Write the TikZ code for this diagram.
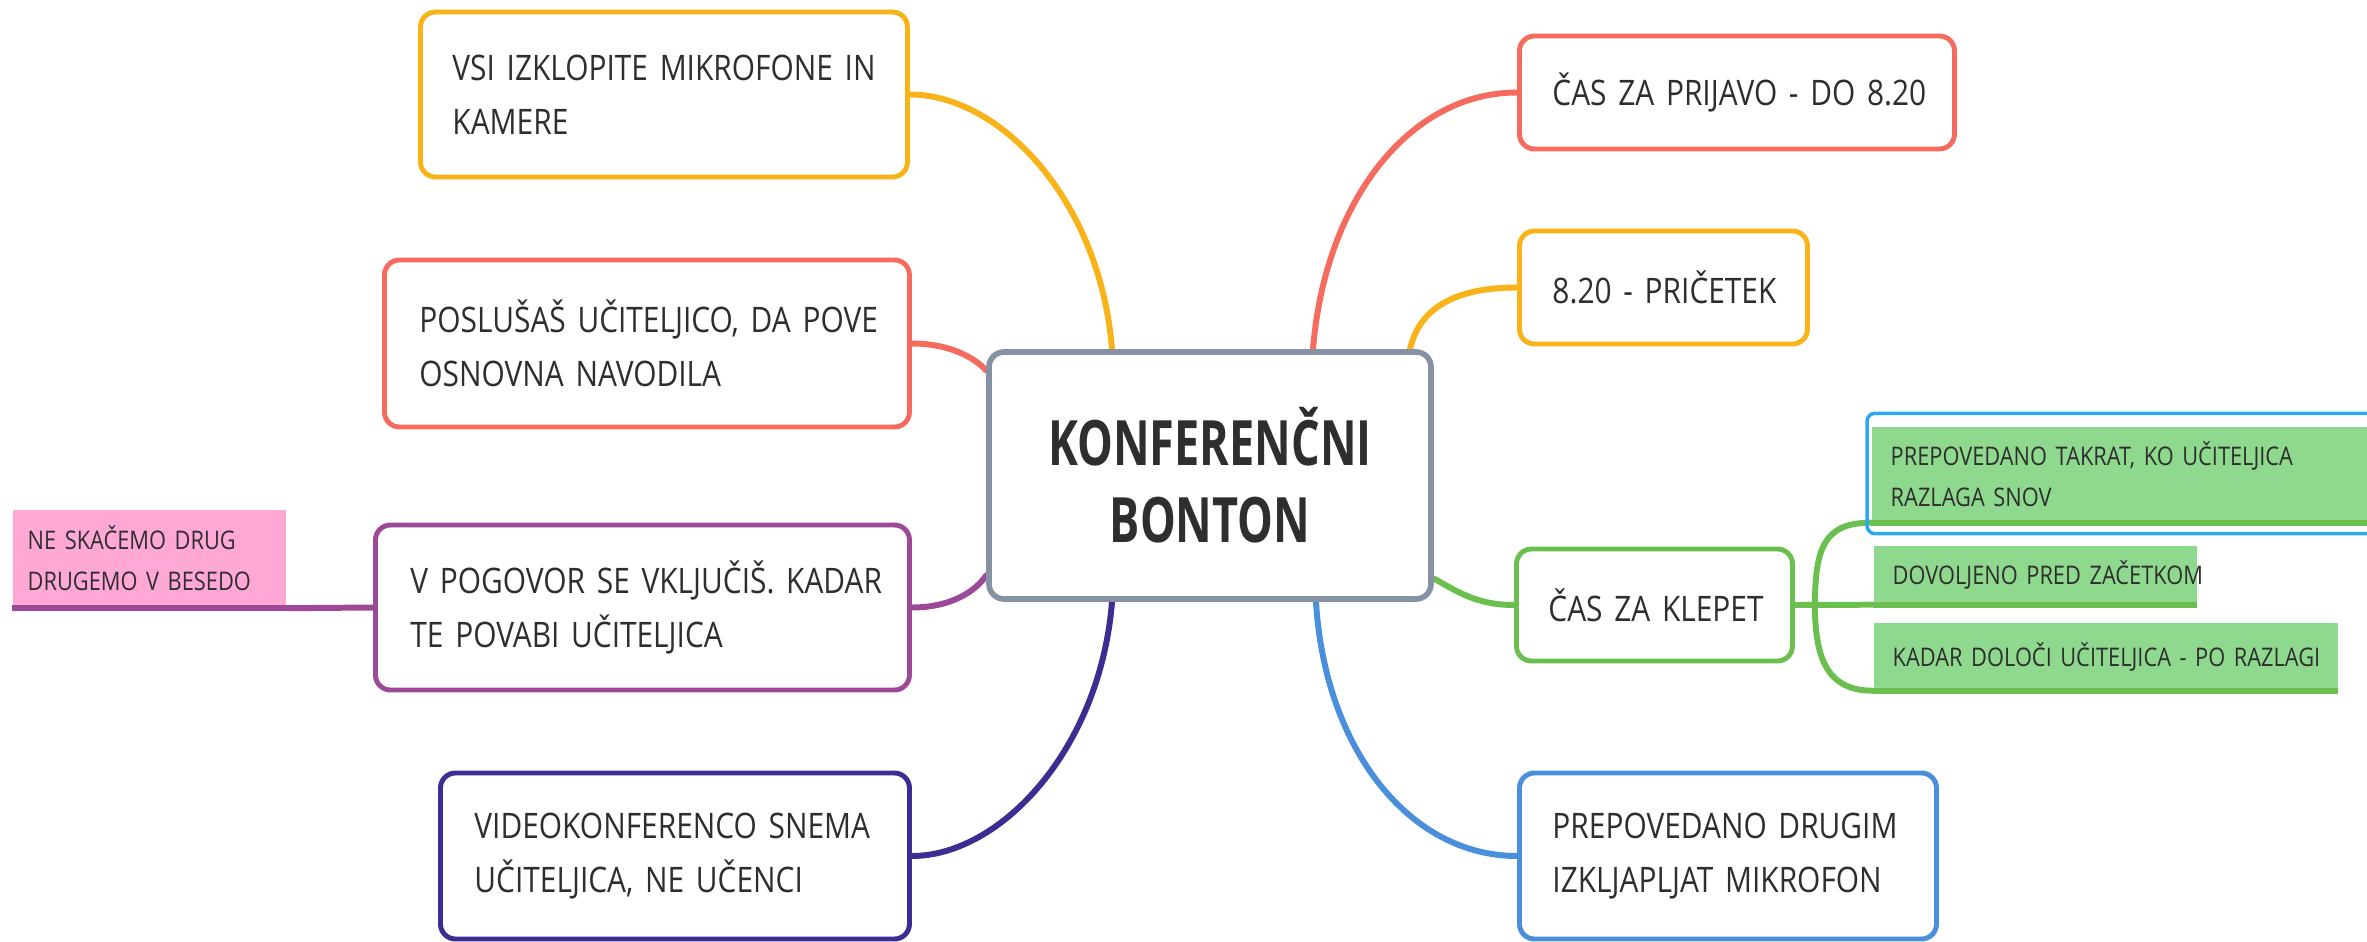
\documentclass[tikz,border=0pt]{standalone}
\usepackage{fontspec}
\setmainfont{Open Sans}[FakeStretch=0.85, WordSpace=0.85]
\newfontfamily\titlefont{Open Sans}[FakeStretch=0.72]
\usetikzlibrary{backgrounds}

\definecolor{txtgray}{HTML}{2E2E2E}
\definecolor{hubgray}{HTML}{8592A3}
\definecolor{yelo}{HTML}{F8B319}
\definecolor{coral}{HTML}{F56C5F}
\definecolor{plum}{HTML}{9C4A98}
\definecolor{indigo}{HTML}{3D2C91}
\definecolor{leaf}{HTML}{6BBF4E}
\definecolor{sky}{HTML}{4A8FDB}
\definecolor{notegreen}{HTML}{8FD98F}
\definecolor{notepink}{HTML}{FFA8D6}
\definecolor{selblue}{HTML}{2CA8F0}

\tikzset{
  topic/.style={draw, rounded corners=0.15cm, line width=1.4pt, fill=white,
    align=left, anchor=west, text=txtgray, inner xsep=0.33cm,
    font=\fontsize{10}{15.4}\selectfont},
  note/.style={fill=#1, align=left, anchor=west, text=txtgray, inner xsep=0.19cm,
    font=\fontsize{7.3}{11.6}\selectfont},
  link/.style={line width=1.7pt, line cap=round},
  underline/.style={line width=1.7pt}
}

\begin{document}
\begin{tikzpicture}
  \useasboundingbox (0,0) rectangle (23.67,-9.41);
  % central topic
  \node[draw=hubgray, rounded corners=0.15cm, line width=1.6pt, fill=white,
        minimum width=4.42cm, minimum height=2.47cm, align=center, text=txtgray,
        font=\titlefont\bfseries\fontsize{17.8}{21.9}\selectfont]
        (bonton) at (12.10,-4.755) {KONFERENČNI\\BONTON};

  % left branches
  \node[topic, draw=yelo, text width=4.23cm, minimum height=1.65cm, inner xsep=0.32cm]
        (vsi) at (4.18,-0.945) {\mbox{VSI IZKLOPITE MIKROFONE IN}\\\mbox{KAMERE}};
  \node[topic, draw=coral, text width=4.55cm, minimum height=1.67cm, inner xsep=0.35cm]
        (poslusas) at (3.82,-3.435) {\mbox{POSLUŠAŠ UČITELJICO, DA POVE}\\\mbox{OSNOVNA NAVODILA}};
  \node[topic, draw=plum, text width=4.64cm, minimum height=1.65cm, inner xsep=0.35cm]
        (pogovor) at (3.73,-6.075) {\mbox{V POGOVOR SE VKLJUČIŠ. KADAR}\\\mbox{TE POVABI UČITELJICA}};
  \node[topic, draw=indigo, text width=4.01cm, minimum height=1.66cm, inner xsep=0.34cm]
        (video) at (4.38,-8.56) {\mbox{VIDEOKONFERENCO SNEMA}\\\mbox{UČITELJICA, NE UČENCI}};

  % right branches
  \node[topic, draw=coral, text width=3.69cm, minimum height=1.13cm]
        (prijava) at (15.17,-0.925) {\mbox{ČAS ZA PRIJAVO - DO 8.20}};
  \node[topic, draw=yelo, text width=2.22cm, minimum height=1.13cm]
        (zacetek) at (15.17,-2.875) {\mbox{8.20 - PRIČETEK}};
  \node[topic, draw=leaf, text width=2.12cm, minimum height=1.12cm, inner xsep=0.32cm]
        (klepet) at (15.14,-6.05) {\mbox{ČAS ZA KLEPET}};
  \node[topic, draw=sky, text width=3.51cm, minimum height=1.66cm]
        (drugim) at (15.17,-8.56) {\mbox{PREPOVEDANO DRUGIM}\\\mbox{IZKLJAPLJAT MIKROFON}};

  % notes
  \node[note=notepink, text width=2.43cm, minimum height=0.98cm, inner xsep=0.15cm]
        (skacemo) at (0.12,-5.585) {\mbox{NE SKAČEMO DRUG}\\\mbox{DRUGEMO V BESEDO}};
  \node[note=notegreen, text width=4.58cm, minimum height=0.95cm]
        (takrat) at (18.71,-4.745) {\mbox{PREPOVEDANO TAKRAT, KO UČITELJICA}\\\mbox{RAZLAGA SNOV}};
  \node[note=notegreen, text width=2.85cm, minimum height=0.58cm]
        (dovoljeno) at (18.73,-5.75) {\mbox{DOVOLJENO PRED ZAČETKOM}};
  \node[note=notegreen, text width=4.26cm, minimum height=0.67cm]
        (kadar) at (18.73,-6.565) {\mbox{KADAR DOLOČI UČITELJICA - PO RAZLAGI}};
  \draw[selblue, line width=1pt, rounded corners=0.08cm]
        ([shift={(-0.04,0.13)}]takrat.north west) rectangle ([shift={(0.1,-0.11)}]takrat.south east);

  % connectors
  \begin{scope}[on background layer]
    \draw[link, yelo] (vsi.east) .. controls (10.0,-0.945) and (11.0,-2.0) .. ([xshift=-0.98cm]bonton.north);
    \draw[link, coral] (poslusas.east) .. controls (9.5,-3.435) and (9.75,-3.58) .. ([yshift=1.05cm]bonton.west);
    \draw[link, plum] (pogovor.east) .. controls (9.5,-6.075) and (9.75,-5.92) .. ([yshift=-1.0cm]bonton.west);
    \draw[link, indigo] (video.east) .. controls (10.0,-8.56) and (11.0,-7.5) .. ([xshift=-0.98cm]bonton.south);
    \draw[link, coral] (prijava.west) .. controls (14.1,-0.925) and (13.25,-2.0) .. ([xshift=1.03cm]bonton.north);
    \draw[link, yelo] (zacetek.west) .. controls (14.6,-2.875) and (14.2,-3.05) .. ([xshift=2.0cm]bonton.north);
    \draw[link, leaf] (klepet.west) .. controls (14.75,-6.05) and (14.55,-5.9) .. ([yshift=-1.03cm]bonton.east);
    \draw[link, sky] (drugim.west) .. controls (14.1,-8.56) and (13.25,-7.5) .. ([xshift=1.06cm]bonton.south);

    % sub branches
    \coordinate (fork) at ([xshift=0.2cm]klepet.east);
    \draw[link, leaf] (klepet.east) -- (dovoljeno.south west);
    \draw[link, leaf] (fork) .. controls ([yshift=0.6cm]fork) and ([xshift=-0.45cm]takrat.south west) .. (takrat.south west);
    \draw[link, leaf] (fork) .. controls ([yshift=-0.55cm]fork) and ([xshift=-0.45cm]kadar.south west) .. (kadar.south west);
    \draw[link, plum] (skacemo.south east) -- (pogovor.west);
  \end{scope}

  % underlines
  \draw[underline, leaf] (takrat.south west) -- (takrat.south east);
  \draw[underline, leaf] (dovoljeno.south west) -- (dovoljeno.south east);
  \draw[underline, leaf] (kadar.south west) -- (kadar.south east);
  \draw[underline, plum] (skacemo.south west) -- (skacemo.south east);
\end{tikzpicture}
\end{document}
